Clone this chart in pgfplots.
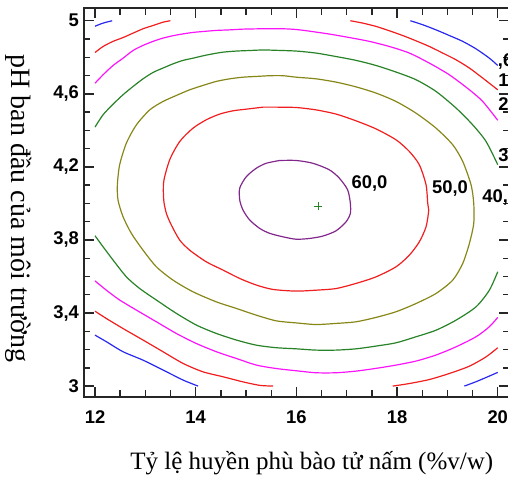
\documentclass[border=0pt]{standalone}
\usepackage{fontspec}
\setmainfont{Liberation Serif}
\newfontfamily\arialfont{Liberation Sans}
\usepackage{pgfplots}
\pgfplotsset{compat=1.18}
\definecolor{cblue}{RGB}{40,40,240}
\definecolor{cred}{RGB}{240,30,30}
\definecolor{cmag}{RGB}{250,20,250}
\definecolor{cgreen}{RGB}{40,130,40}
\definecolor{colive}{RGB}{135,135,25}
\definecolor{cpurp}{RGB}{130,40,140}
\newcommand{\tfont}{\arialfont\bfseries\fontsize{9.2}{10}\selectfont}
\begin{document}
\begin{tikzpicture}
\useasboundingbox (-42pt,-42.25pt) rectangle (212pt,198.25pt);
\clip (-42pt,-42.25pt) rectangle (212pt,198.25pt);
\begin{axis}[
  at={(0,0)}, anchor=south west,
  scale only axis, width=212.5pt, height=194pt,
  xmin=11.781, xmax=20.224, ymin=2.943, ymax=5.067,
  clip=false,
  axis line style={line width=1pt, black!85},
  tick align=inside,
  every tick/.style={line width=0.7pt, black!85},
  major tick length=5pt, minor tick length=3.2pt,
  xtick={12,14,16,18,20}, xticklabels={12,14,16,18,20},
  ytick={3,3.4,3.8,4.2,4.6,5}, yticklabels={3,{3,4},{3,8},{4,2},{4,6},5},
  minor x tick num=3, minor y tick num=3,
  xticklabel style={font=\tfont, yshift=-3.5pt},
  yticklabel style={font=\tfont, xshift=1pt},
  xlabel={Tỷ lệ huyền phù bào tử nấm (\%v/w)},
  ylabel={pH ban đầu của môi trường},
  every axis x label/.style={at={(axis description cs:0.536,0)}, anchor=center, yshift=-33.25pt, font=\fontsize{12.5}{14}\selectfont},
  every axis y label/.style={at={(axis description cs:0,0.4845)}, xshift=-32.5pt, rotate=-90, anchor=center, font=\fontsize{14}{16}\selectfont},
  every axis plot/.append style={line width=0.6pt, smooth, tension=0.45},
]
% 60 contour (purple)
\addplot[cpurp, mark=none] coordinates {(15.669,4.235)(15.994,4.235)(16.324,4.220)(16.655,4.184)(16.854,4.138)(17.019,4.074)(17.072,4.001)(17.072,3.945)(16.986,3.899)(16.788,3.850)(16.523,3.821)(16.258,3.808)(15.993,3.804)(15.736,3.817)(15.471,3.836)(15.272,3.863)(15.073,3.909)(14.941,3.963)(14.875,4.018)(14.875,4.084)(15.007,4.147)(15.206,4.193)(15.404,4.220)(15.669,4.235)};
% 50 contour (red)
\addplot[cred, mark=none] coordinates {(15.338,4.527)(15.603,4.527)(15.994,4.525)(16.390,4.512)(16.788,4.489)(17.185,4.452)(17.582,4.408)(17.980,4.348)(18.245,4.284)(18.443,4.211)(18.576,4.102)(18.609,4.001)(18.629,3.963)(18.576,3.872)(18.443,3.790)(18.245,3.717)(17.980,3.653)(17.582,3.598)(17.185,3.562)(16.788,3.534)(16.390,3.525)(15.993,3.520)(15.537,3.529)(15.206,3.553)(14.875,3.589)(14.543,3.635)(14.212,3.680)(13.881,3.744)(13.683,3.799)(13.517,3.881)(13.418,3.945)(13.365,4.018)(13.365,4.120)(13.484,4.239)(13.683,4.339)(13.947,4.412)(14.212,4.458)(14.477,4.489)(14.742,4.507)(15.007,4.516)(15.338,4.527)};
% 40 contour (olive)
\addplot[colive, mark=none] coordinates {(15.206,4.695)(15.471,4.699)(15.736,4.699)(15.994,4.691)(16.390,4.682)(16.788,4.664)(17.185,4.638)(17.582,4.604)(17.980,4.558)(18.377,4.494)(18.774,4.412)(19.106,4.321)(19.304,4.230)(19.470,4.102)(19.523,4.001)(19.523,3.890)(19.437,3.781)(19.304,3.671)(19.106,3.580)(18.774,3.507)(18.377,3.452)(17.980,3.407)(17.582,3.376)(17.185,3.352)(16.788,3.343)(16.390,3.337)(15.993,3.346)(15.603,3.357)(15.206,3.388)(14.809,3.425)(14.411,3.461)(13.947,3.516)(13.550,3.580)(13.219,3.653)(12.954,3.744)(12.722,3.836)(12.557,3.927)(12.457,4.018)(12.444,4.102)(12.490,4.212)(12.623,4.330)(12.822,4.430)(13.087,4.512)(13.351,4.558)(13.616,4.591)(13.881,4.622)(14.146,4.646)(14.411,4.668)(14.676,4.682)(14.941,4.691)(15.206,4.695)};
% 30 contour (green)
\addplot[cgreen, mark=none] coordinates {(12.0,4.418)(12.159,4.485)(12.358,4.543)(12.557,4.595)(12.755,4.640)(12.954,4.682)(13.153,4.717)(13.351,4.741)(13.550,4.764)(13.749,4.783)(13.947,4.795)(14.146,4.808)(14.345,4.819)(14.543,4.828)(14.809,4.834)(15.073,4.837)(15.338,4.840)(15.603,4.838)(15.994,4.834)(16.390,4.823)(16.788,4.804)(17.185,4.783)(17.582,4.755)(17.980,4.719)(18.377,4.677)(18.774,4.613)(19.172,4.522)(19.503,4.430)(19.768,4.339)(20.0,4.212)};
\addplot[cgreen, mark=none] coordinates {(12.0,3.823)(12.159,3.763)(12.358,3.690)(12.623,3.598)(12.888,3.534)(13.219,3.471)(13.616,3.398)(14.014,3.334)(14.411,3.288)(14.809,3.252)(15.206,3.224)(15.603,3.210)(15.994,3.204)(16.390,3.197)(16.788,3.197)(17.185,3.204)(17.582,3.219)(17.980,3.237)(18.377,3.270)(18.774,3.306)(19.172,3.361)(19.569,3.434)(19.834,3.525)(20.0,3.626)};
% 20 contour (magenta)
\addplot[cmag, mark=none] coordinates {(12.0,4.658)(12.159,4.704)(12.358,4.755)(12.557,4.795)(12.755,4.837)(12.954,4.865)(13.153,4.887)(13.351,4.905)(13.550,4.918)(13.749,4.928)(13.947,4.936)(14.146,4.941)(14.411,4.947)(14.676,4.950)(14.941,4.954)(15.338,4.956)(15.736,4.956)(15.994,4.952)(16.258,4.943)(16.655,4.927)(17.052,4.908)(17.450,4.887)(17.847,4.859)(18.245,4.823)(18.642,4.768)(19.039,4.704)(19.437,4.622)(19.702,4.558)(20.0,4.455)};
\addplot[cmag, mark=none] coordinates {(12.0,3.576)(12.225,3.525)(12.490,3.471)(12.822,3.416)(13.219,3.352)(13.616,3.288)(14.014,3.233)(14.411,3.188)(14.809,3.151)(15.206,3.115)(15.603,3.096)(15.994,3.084)(16.390,3.073)(16.788,3.073)(17.185,3.082)(17.582,3.097)(17.980,3.115)(18.377,3.137)(18.774,3.170)(19.172,3.215)(19.569,3.270)(19.834,3.325)(20.0,3.376)};
% 10 contour (red)
\addplot[cred, mark=none] coordinates {(12.0,4.826)(12.160,4.859)(12.358,4.887)(12.557,4.908)(12.755,4.932)(12.954,4.956)(13.153,4.974)(13.351,4.992)(13.497,5.0)};
\addplot[cred, mark=none] coordinates {(17.072,5.0)(17.318,4.987)(17.582,4.969)(17.847,4.945)(18.112,4.919)(18.377,4.890)(18.642,4.859)(18.907,4.823)(19.172,4.786)(19.437,4.741)(19.702,4.686)(20.0,4.622)};
\addplot[cred, mark=none] coordinates {(12.0,3.410)(12.225,3.370)(12.557,3.315)(12.954,3.252)(13.351,3.188)(13.749,3.124)(14.146,3.078)(14.543,3.051)(14.941,3.023)(15.272,3.004)(15.537,3.0)};
\addplot[cred, mark=none] coordinates {(17.914,3.0)(18.245,3.014)(18.642,3.036)(19.039,3.069)(19.437,3.109)(19.768,3.160)(20.0,3.210)};
% lowest contour (blue)
\addplot[cblue, mark=none] coordinates {(12.0,4.970)(12.160,4.987)(12.340,5.0)};
\addplot[cblue, mark=none] coordinates {(18.265,5.0)(18.510,4.978)(18.774,4.950)(19.039,4.919)(19.304,4.887)(19.569,4.846)(19.834,4.795)(20.0,4.755)};
\addplot[cblue, mark=none] coordinates {(12.0,3.279)(12.225,3.243)(12.557,3.188)(12.954,3.142)(13.351,3.088)(13.749,3.033)(14.047,3.0)};
\addplot[cblue, mark=none] coordinates {(19.337,3.0)(19.569,3.024)(19.801,3.051)(20.0,3.075)};
% optimum point
\addplot[cgreen, only marks, mark=+, mark size=2pt, mark options={line width=0.45pt}] coordinates {(16.43,3.985)};
% contour labels
\node[font=\tfont, inner sep=0pt] at (axis cs:17.453,4.111) {60,0};
\node[font=\tfont, inner sep=0pt] at (axis cs:19.052,4.084) {50,0};
\node[font=\tfont, inner sep=0pt, anchor=west] at (axis cs:19.688,4.035) {40,0};
\node[font=\tfont, inner sep=0pt, anchor=west] at (axis cs:20.006,4.256) {30,0};
\node[font=\tfont, inner sep=0pt, anchor=west] at (axis cs:20.006,4.538) {20,0};
\node[font=\tfont, inner sep=0pt, anchor=west] at (axis cs:20.006,4.670) {10,0};
\node[font=\tfont, inner sep=0pt, anchor=west] at (axis cs:19.995,4.779) {,6};
\end{axis}
\end{tikzpicture}
\end{document}
